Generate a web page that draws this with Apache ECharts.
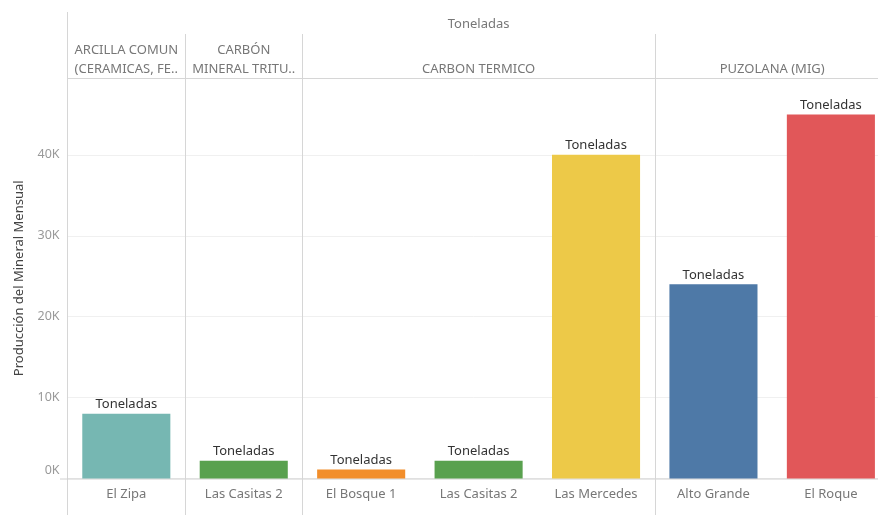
<!DOCTYPE html>
<html>
<head>
<meta charset="utf-8">
<script src="https://cdn.jsdelivr.net/npm/echarts@6/dist/echarts.min.js"></script>
<style>
  html, body { margin: 0; padding: 0; background: #fff; }
  #chart { width: 878px; height: 515px; }
</style>
</head>
<body>
<div id="chart"></div>
<script>
// minas (eje x) y producción mensual en toneladas
const mines = ['El Zipa', 'Las Casitas 2', 'El Bosque 1', 'Las Casitas 2', 'Las Mercedes', 'Alto Grande', 'El Roque']
const values = [8000, 2200, 1100, 2200, 40000, 24000, 45000]
const barColors = ['#76B7B2', '#59A14F', '#F28E2B', '#59A14F', '#EDC948', '#4E79A7', '#E15759']

// paneles por mineral (cuantas minas en cada uno)
const paneNames = ['ARCILLA COMUN\n(CERAMICAS, FE..', 'CARBÓN\nMINERAL TRITU..', 'CARBON TERMICO', 'PUZOLANA (MIG)']
const paneSizes = [1, 1, 3, 2]

const yTicks = [0, 10000, 20000, 30000, 40000]

const font = '"Noto Sans", sans-serif'
const lineColor = '#d6d6d6'

const chart = echarts.init(document.getElementById('chart'))

// el área de trazado sigue más allá del borde derecho (recortada como en el original)
const GRID = { left: 67.6, top: 78, width: 822, height: 400.5, outerBoundsMode: 'none' }

chart.setOption({
  animation: false,
  textStyle: { fontFamily: font },
  grid: GRID,
  xAxis: {
    type: 'category',
    data: mines.map((m, i) => String(i)),
    axisLine: { show: false },
    axisTick: { show: false },
    axisLabel: {
      formatter: v => mines[+v],
      color: '#777',
      fontSize: 13,
      margin: 9,
      interval: 0
    }
  },
  yAxis: {
    type: 'value',
    min: 0,
    max: 49500,
    interval: 10000,
    name: 'Producción del Mineral Mensual',
    nameLocation: 'middle',
    nameGap: 42,
    nameTextStyle: { color: '#444', fontSize: 13 },
    axisLine: { show: false },
    axisTick: { show: false },
    splitLine: { lineStyle: { color: '#f0f0f0' } },
    axisLabel: {
      color: '#999',
      fontSize: 12.5,
      margin: 8,
      formatter: v => yTicks.includes(v) ? (v === 0 ? '{z|0K}' : v / 1000 + 'K') : '',
      rich: { z: { color: '#999', fontSize: 12.5, padding: [0, 0, 16, 0] } }
    }
  },
  series: [{
    type: 'bar',
    barWidth: '75%',
    data: values.map((v, i) => ({ value: v, itemStyle: { color: barColors[i] } })),
    label: {
      show: true,
      position: 'top',
      distance: 3,
      formatter: 'Toneladas',
      color: '#333',
      fontSize: 13
    }
  }]
})

// cabeceras y separadores de paneles al estilo Tableau
const graphics = []
const plotTop = GRID.top
const plotBase = GRID.top + GRID.height
const step = GRID.width / mines.length
const line = (x1, y1, x2, y2, c) => ({
  type: 'line', silent: true,
  shape: { x1, y1, x2, y2 },
  style: { stroke: c || lineColor, lineWidth: 1 }
})

graphics.push(line(67.5, 12, 67.5, 515))
graphics.push(line(67.5, plotTop + 0.5, 878, plotTop + 0.5))
graphics.push(line(60, plotBase + 0.5, 878, plotBase + 0.5, '#d0d0d0'))

let start = 0
paneNames.forEach((name, p) => {
  const x0 = GRID.left + start * step
  const x1 = GRID.left + (start + paneSizes[p]) * step
  if (p > 0) graphics.push(line(Math.round(x0) + 0.5, 34, Math.round(x0) + 0.5, 515))
  graphics.push({
    type: 'text', silent: true,
    x: (x0 + x1) / 2, y: 79.5,
    style: {
      text: name, fill: '#777', font: '13px ' + font,
      align: 'center', verticalAlign: 'bottom', lineHeight: 19.5
    }
  })
  start += paneSizes[p]
})

graphics.push({
  type: 'text', silent: true,
  x: GRID.left + GRID.width / 2, y: 24,
  style: { text: 'Toneladas', fill: '#777', font: '13px ' + font, align: 'center', verticalAlign: 'middle' }
})

chart.setOption({ graphic: graphics })
</script>
</body>
</html>
